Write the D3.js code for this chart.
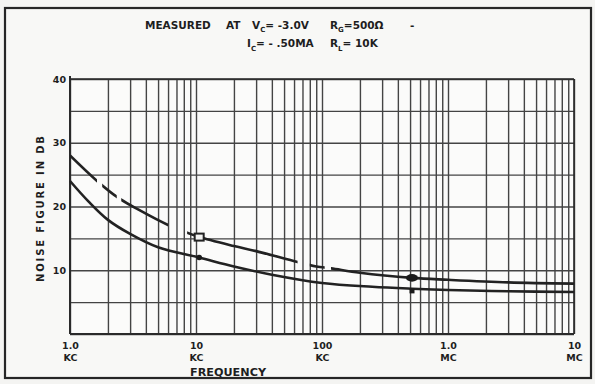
<!DOCTYPE html>
<html>
<head>
<meta charset="utf-8">
<script src="https://cdn.jsdelivr.net/npm/d3@7"></script>
<style>
  html, body { margin: 0; padding: 0; background: #f4f4f2; }
  svg { display: block; }
  text { font-family: "DejaVu Sans", "Liberation Sans", sans-serif; font-weight: bold; fill: #1e1e1e; }
</style>
</head>
<body>
<svg id="chart" width="595" height="384"></svg>
<script>
// ---------- data ----------
const xTickValues = [1e3, 1e4, 1e5, 1e6, 1e7];
const xTickTop = ["1.0", "10", "100", "1.0", "10"];
const xTickBottom = ["KC", "KC", "KC", "MC", "MC"];
const yTickValues = [10, 20, 30, 40];
const yGridValues = [0, 5, 10, 15, 20, 25, 30, 35, 40];

// upper curve (frequency in Hz, noise figure in dB)
const upperFreq = [1000, 1640, 2400, 3500, 6000, 8500, 10600, 20000, 30000, 64000, 90000, 118000, 200000, 518000, 1000000, 3000000, 10000000];
const upperDb   = [28.0, 24.0, 21.4, 19.5, 17.1, 15.9, 15.2, 13.8, 13.0, 11.3, 10.6, 10.3, 9.6, 8.8, 8.5, 8.1, 7.9];
// drawn pieces of the upper curve (the rest is gaps of the dashed part)
const upperPieceStart = [1000, 1800, 2550, 8500, 80000, 118000];
const upperPieceEnd   = [1640, 2350, 6000, 64000, 105000, 10000000];

// lower curve
const lowerFreq = [1000, 1400, 2000, 3000, 5000, 10600, 20000, 40000, 100000, 250000, 518000, 1000000, 3000000, 10000000];
const lowerDb   = [24.0, 20.8, 17.9, 15.7, 13.6, 12.0, 10.6, 9.3, 8.0, 7.4, 7.1, 6.9, 6.7, 6.6];

// marked test points
const upperMarkFreq = [10600, 518000];
const upperMarkDb   = [15.2, 8.8];
const lowerMarkFreq = [10600, 518000];
const lowerMarkDb   = [12.0, 7.0];

// ---------- drawing ----------
const svg = d3.select("#chart");
const L = 70, R = 574, T = 79, B = 334;
const x = d3.scaleLog().domain([1e3, 1e7]).range([L, R]);
const y = d3.scaleLinear().domain([0, 40]).range([B, T]);
const ink = "#2a2a2a";

// paper frame
svg.append("rect").attr("x", 5).attr("y", 8).attr("width", 586).attr("height", 370)
  .attr("fill", "#f8f8f6").attr("stroke", "#262626").attr("stroke-width", 2.2);

// plot background
svg.append("rect").attr("x", L).attr("y", T).attr("width", R - L).attr("height", B - T)
  .attr("fill", "#fbfbfa");

// vertical grid via axis
const xGridValues = [];
for (let k = 3; k < 7; k++) for (let n = 1; n <= 9; n++) xGridValues.push(n * Math.pow(10, k));
xGridValues.push(1e7);
const gx = svg.append("g").attr("transform", `translate(0,${B})`)
  .call(d3.axisBottom(x).tickValues(xGridValues).tickSize(-(B - T)).tickFormat(""));
gx.select(".domain").remove();
gx.selectAll("line").attr("stroke", "#444").attr("stroke-width", 1.4);

// horizontal grid via axis
const gy = svg.append("g").attr("transform", `translate(${L},0)`)
  .call(d3.axisLeft(y).tickValues(yGridValues).tickSize(-(R - L)).tickFormat(""));
gy.select(".domain").remove();
gy.selectAll("line").attr("stroke", "#444").attr("stroke-width", 1.4);

// plot frame (left and bottom heavier)
svg.append("line").attr("x1", L).attr("x2", L).attr("y1", T - 3).attr("y2", B).attr("stroke", ink).attr("stroke-width", 2);
svg.append("line").attr("x1", L).attr("x2", R).attr("y1", B).attr("y2", B).attr("stroke", ink).attr("stroke-width", 2);
svg.append("line").attr("x1", L).attr("x2", R).attr("y1", T).attr("y2", T).attr("stroke", ink).attr("stroke-width", 1.6);
svg.append("line").attr("x1", R).attr("x2", R).attr("y1", T).attr("y2", B).attr("stroke", ink).attr("stroke-width", 1.6);

// y tick labels
const ya = svg.append("g").attr("transform", `translate(${L},0)`)
  .call(d3.axisLeft(y).tickValues(yTickValues).tickSize(0).tickPadding(4).tickFormat(d3.format("d")));
ya.select(".domain").remove();
ya.selectAll("text").attr("font-size", 9.5).attr("font-family", "DejaVu Sans").attr("font-weight", "bold").attr("fill", "#1e1e1e");

// x tick labels (two lines)
const xa = svg.append("g").attr("transform", `translate(0,${B})`)
  .call(d3.axisBottom(x).tickValues(xTickValues).tickSize(0).tickPadding(8).tickFormat((d, i) => xTickTop[i]));
xa.select(".domain").remove();
xa.selectAll("text").attr("font-size", 9.5).attr("font-family", "DejaVu Sans").attr("font-weight", "bold").attr("fill", "#1e1e1e")
  .each(function(d, i) {
    d3.select(this).append("tspan").attr("x", 0).attr("dy", "1.25em").text(xTickBottom[i]);
  });

// curves
const line = d3.line().x(d => x(d[0])).y(d => y(d[1])).curve(d3.curveCatmullRom.alpha(0.5));
const upperData = upperFreq.map((f, i) => [f, upperDb[i]]);
const lowerData = lowerFreq.map((f, i) => [f, lowerDb[i]]);

const defs = svg.append("defs");
upperPieceStart.forEach((s, i) => {
  defs.append("clipPath").attr("id", "piece" + i)
    .append("rect").attr("x", x(s)).attr("y", 0)
    .attr("width", x(upperPieceEnd[i]) - x(s)).attr("height", 384);
  svg.append("path").datum(upperData).attr("d", line)
    .attr("clip-path", `url(#piece${i})`)
    .attr("fill", "none").attr("stroke", "#222").attr("stroke-width", 2.6);
});

svg.append("path").datum(lowerData).attr("d", line)
  .attr("fill", "none").attr("stroke", "#222").attr("stroke-width", 2.6);

// markers
svg.append("rect").attr("x", x(upperMarkFreq[0]) - 4.5).attr("y", y(upperMarkDb[0]) - 3.5)
  .attr("width", 9).attr("height", 7).attr("fill", "#f4f4f2").attr("stroke", "#222").attr("stroke-width", 2);
svg.append("ellipse").attr("cx", x(upperMarkFreq[1])).attr("cy", y(upperMarkDb[1]))
  .attr("rx", 6).attr("ry", 3.8).attr("fill", "#1a1a1a");
svg.append("circle").attr("cx", x(lowerMarkFreq[0])).attr("cy", y(lowerMarkDb[0]))
  .attr("r", 2.8).attr("fill", "#1a1a1a");
svg.append("rect").attr("x", x(lowerMarkFreq[1]) - 2.5).attr("y", y(lowerMarkDb[1]) - 1)
  .attr("width", 5).attr("height", 5).attr("fill", "#1a1a1a");

// axis titles
svg.append("text").attr("x", 190).attr("y", 376).attr("font-size", 10)
  .attr("textLength", 76).attr("lengthAdjust", "spacingAndGlyphs").text("FREQUENCY");
svg.append("text").attr("transform", "translate(44,282) rotate(-90)")
  .attr("font-size", 10).attr("textLength", 146).attr("lengthAdjust", "spacing")
  .text("NOISE FIGURE IN DB");

// header text
const h1 = svg.append("text").attr("y", 29).attr("font-size", 10.5);
h1.append("tspan").attr("x", 145).text("MEASURED");
h1.append("tspan").attr("x", 226).text("AT");
h1.append("tspan").attr("x", 252).text("V");
h1.append("tspan").attr("dy", 3).attr("font-size", 7).text("C");
h1.append("tspan").attr("dy", -3).text("= -3.0V");
h1.append("tspan").attr("x", 330).text("R");
h1.append("tspan").attr("dy", 3).attr("font-size", 7).text("G");
h1.append("tspan").attr("dy", -3).text("=500Ω");
h1.append("tspan").attr("x", 410).text("-");

const h2 = svg.append("text").attr("y", 47).attr("font-size", 10.5);
h2.append("tspan").attr("x", 247).text("I");
h2.append("tspan").attr("dy", 4).attr("font-size", 7).text("C");
h2.append("tspan").attr("dy", -4).text("= - .50MA");
h2.append("tspan").attr("x", 330).text("R");
h2.append("tspan").attr("dy", 4).attr("font-size", 7).text("L");
h2.append("tspan").attr("dy", -4).text("= 10K");
</script>
</body>
</html>
